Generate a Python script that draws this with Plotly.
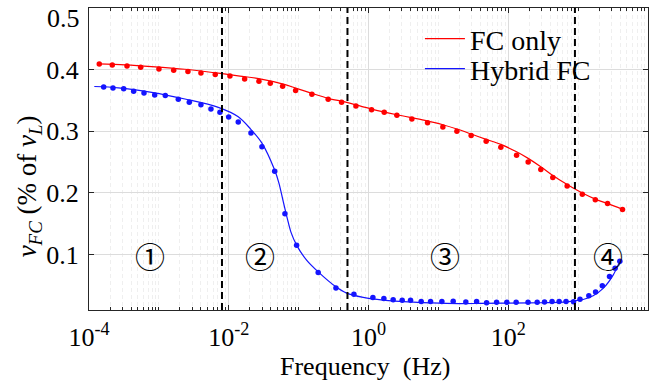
import numpy as np
import plotly.graph_objects as go

# ---- measured FC voltage ratio vs. frequency (log10 of Hz) ----
fc_only_logf = [-3.853, -3.667, -3.456, -3.260, -2.999, -2.788, -2.584, -2.398, -2.193, -1.983,
                -1.773, -1.568, -1.406, -1.229, -1.043, -0.810, -0.577, -0.385, -0.180, 0.044,
                0.225, 0.406, 0.621, 0.845, 1.064, 1.265, 1.469, 1.684, 1.894, 2.119,
                2.285, 2.466, 2.638, 2.843, 3.060, 3.246, 3.421, 3.635]
fc_only_v = [0.409, 0.4075, 0.406, 0.404, 0.401, 0.399, 0.397, 0.3945, 0.392, 0.3896,
             0.385, 0.381, 0.378, 0.373, 0.366, 0.360, 0.352, 0.347, 0.341, 0.335,
             0.331, 0.326, 0.320, 0.314, 0.307, 0.300, 0.293, 0.284, 0.274, 0.261,
             0.250, 0.238, 0.225, 0.211, 0.198, 0.189, 0.183, 0.173]

hybrid_logf = [-3.790, -3.657, -3.504, -3.361, -3.213, -3.060, -2.908, -2.722, -2.565, -2.398,
               -2.255, -2.126, -2.001, -1.864, -1.682, -1.525, -1.343, -1.196, -1.029, -0.720,
               -0.466, -0.209, 0.063, 0.220, 0.353, 0.482, 0.602, 0.754, 0.888, 1.050,
               1.212, 1.393, 1.547, 1.690, 1.833, 1.980, 2.113, 2.283, 2.414, 2.519,
               2.627, 2.728, 2.827, 2.934, 3.027, 3.153, 3.250, 3.346, 3.449, 3.529, 3.597]
hybrid_v = [0.372, 0.370, 0.369, 0.365, 0.362, 0.359, 0.358, 0.352, 0.347, 0.343,
            0.336, 0.331, 0.323, 0.315, 0.297, 0.275, 0.235, 0.166, 0.115, 0.071,
            0.0455, 0.0357, 0.0304, 0.0287, 0.0265, 0.026, 0.026, 0.0239, 0.0239, 0.0239,
            0.024, 0.0231, 0.0239, 0.0216, 0.0227, 0.0224, 0.0227, 0.0227, 0.0227, 0.0231,
            0.0239, 0.0239, 0.0239, 0.0235, 0.0273, 0.0333, 0.0394, 0.0492, 0.0644, 0.0779, 0.0893]

# ---- fitted model curves ----
fc_only_fit_logf = [-3.871, -3.485, -3.103, -2.627, -2.150, -1.840, -1.554, -1.220, -1.043, -0.810,
                    -0.577, -0.313, 0.044, 0.406, 0.807, 1.064, 1.265, 1.469, 1.684, 1.894,
                    2.119, 2.285, 2.466, 2.638, 2.843, 3.060, 3.246, 3.425, 3.639]
fc_only_fit_v = [0.4094, 0.4078, 0.405, 0.4006, 0.3942, 0.3896, 0.3851, 0.3766, 0.3701, 0.3615,
                 0.3534, 0.3469, 0.336, 0.3268, 0.3177, 0.3106, 0.3036, 0.2955, 0.2869, 0.2787,
                 0.2667, 0.256, 0.2424, 0.2281, 0.2135, 0.1997, 0.1899, 0.1826, 0.1732]

hybrid_fit_logf = [-3.924, -3.581, -3.103, -2.627, -2.150, -1.864, -1.687, -1.525, -1.343, -1.282,
                   -1.225, -1.167, -1.110, -1.029, -0.886, -0.720, -0.466, -0.313, -0.076, 0.210,
                   0.640, 1.117, 1.594, 2.309, 2.785, 2.938, 3.072, 3.215, 3.358, 3.501, 3.597]
hybrid_fit_v = [0.3726, 0.3705, 0.3631, 0.3523, 0.3388, 0.3235, 0.3036, 0.2808, 0.237, 0.2159,
                0.1883, 0.1607, 0.1364, 0.1153, 0.0909, 0.0719, 0.0476, 0.0373, 0.0304, 0.026,
                0.0227, 0.0206, 0.0206, 0.0216, 0.0227, 0.0247, 0.0271, 0.033, 0.045, 0.0666, 0.0893]

# ---- frequency regions ----
region_bounds_hz = [0.008, 0.5, 900]
region_labels = ["①", "②", "③", "④"]
region_label_hz = [7.5e-4, 0.028, 12.4, 2660]
region_label_level = 0.1

# ---- axis ticks ----
x_tick_hz = [1e-4, 1e-2, 1, 1e2]
x_tick_text = ["10<sup>-4</sup>", "10<sup>-2</sup>", "10<sup>0</sup>", "10<sup>2</sup>"]
y_tick_vals = [0.1, 0.2, 0.3, 0.4]
y_tick_text = ["0.1", "0.2", "0.3", "0.4"]
y_top_label = "0.5"

SERIF = "Liberation Serif"
FS_TICK = 26
FS_TITLE = 26
FS_LEGEND = 28


def hz(logf):
    return np.power(10.0, np.asarray(logf))


fig = go.Figure()

series = [
    ("FC only", "#ff0000", fc_only_logf, fc_only_v, fc_only_fit_logf, fc_only_fit_v, "legend"),
    ("Hybrid FC", "#1414ff", hybrid_logf, hybrid_v, hybrid_fit_logf, hybrid_fit_v, "legend2"),
]
for name, color, lf, v, flf, fv, leg in series:
    fig.add_trace(go.Scatter(
        x=hz(flf), y=fv, mode="lines", name=name,
        line=dict(color=color, width=1.2, shape="spline", smoothing=0.9),
        showlegend=True, legendgroup=name, legend=leg,
    ))
    fig.add_trace(go.Scatter(
        x=hz(lf), y=v, mode="markers", name=name,
        marker=dict(color=color, size=5.5, symbol="circle"),
        showlegend=False, legendgroup=name, legend=leg,
    ))

# region boundaries
for b in region_bounds_hz:
    fig.add_vline(x=b, line=dict(color="black", width=2, dash="7px,4px"), layer="above")

# region numbers
for lab, fx in zip(region_labels, region_label_hz):
    fig.add_annotation(x=np.log10(fx), y=region_label_level, xref="x", yref="y",
                       text=lab, showarrow=False,
                       font=dict(family="Noto Sans CJK JP", size=30, color="black"),
                       xanchor="center", yanchor="middle")

# minor tick positions on the log axis
minor_vals = [m * 10.0 ** k for k in range(-4, 4) for m in range(1, 10)
              if not (m == 1 and k % 2 == 0)]

fig.update_xaxes(
    type="log", range=[-4, 4],
    tickmode="array", tickvals=x_tick_hz, ticktext=x_tick_text,
    ticks="inside", ticklen=5, tickcolor="#262626",
    showline=True, linecolor="#262626", linewidth=1, mirror="ticks",
    showgrid=True, gridcolor="#dcdcdc", gridwidth=1,
    tickfont=dict(family=SERIF, size=FS_TICK, color="black"),
    zeroline=False, ticklabelstandoff=4,
    minor=dict(tickmode="array", tickvals=minor_vals, ticks="inside", ticklen=3,
               tickcolor="#262626", showgrid=True, gridcolor="#efefef",
               griddash="4px,3px", gridwidth=1),
)
fig.update_yaxes(
    range=[0.01, 0.5],
    tickmode="array", tickvals=y_tick_vals, ticktext=y_tick_text,
    ticks="inside", ticklen=5, tickcolor="#262626",
    showline=True, linecolor="#262626", linewidth=1, mirror="ticks",
    showgrid=True, gridcolor="#dcdcdc", gridwidth=1,
    tickfont=dict(family=SERIF, size=FS_TICK, color="black"),
    zeroline=False, ticklabelstandoff=4,
)

# top y label sits just below the frame edge
fig.add_annotation(x=0, y=0.5, xref="paper", yref="y", text=y_top_label,
                   showarrow=False, xanchor="right", yanchor="middle",
                   xshift=-7, yshift=-10, font=dict(family=SERIF, size=FS_TICK, color="black"))

# axis titles
fig.add_annotation(x=0.494, y=-0.187, xref="paper", yref="paper",
                   text="Frequency  (Hz)", showarrow=False,
                   xanchor="center", yanchor="middle",
                   font=dict(family=SERIF, size=FS_TITLE, color="black"))
fig.add_annotation(x=-0.107, y=0.41, xref="paper", yref="paper",
                   text="<i>v</i><sub><i>FC</i></sub> (% of <i>v</i><sub><i>L</i></sub>)",
                   showarrow=False, textangle=-90,
                   xanchor="center", yanchor="middle",
                   font=dict(family=SERIF, size=27, color="black"))

legend_style = dict(xanchor="left", yanchor="middle", bgcolor="rgba(0,0,0,0)", borderwidth=0,
                    font=dict(family=SERIF, size=FS_LEGEND, color="black"), itemwidth=40)
fig.update_layout(
    width=651, height=381,
    margin=dict(l=89, r=3, t=8, b=71),
    paper_bgcolor="white", plot_bgcolor="white",
    font=dict(family=SERIF),
    showlegend=True,
    legend=dict(x=0.592, y=1 - (39 - 8) / 302, **legend_style),
    legend2=dict(x=0.592, y=1 - (69 - 8) / 302, **legend_style),
)

fig.write_html("out.html")
